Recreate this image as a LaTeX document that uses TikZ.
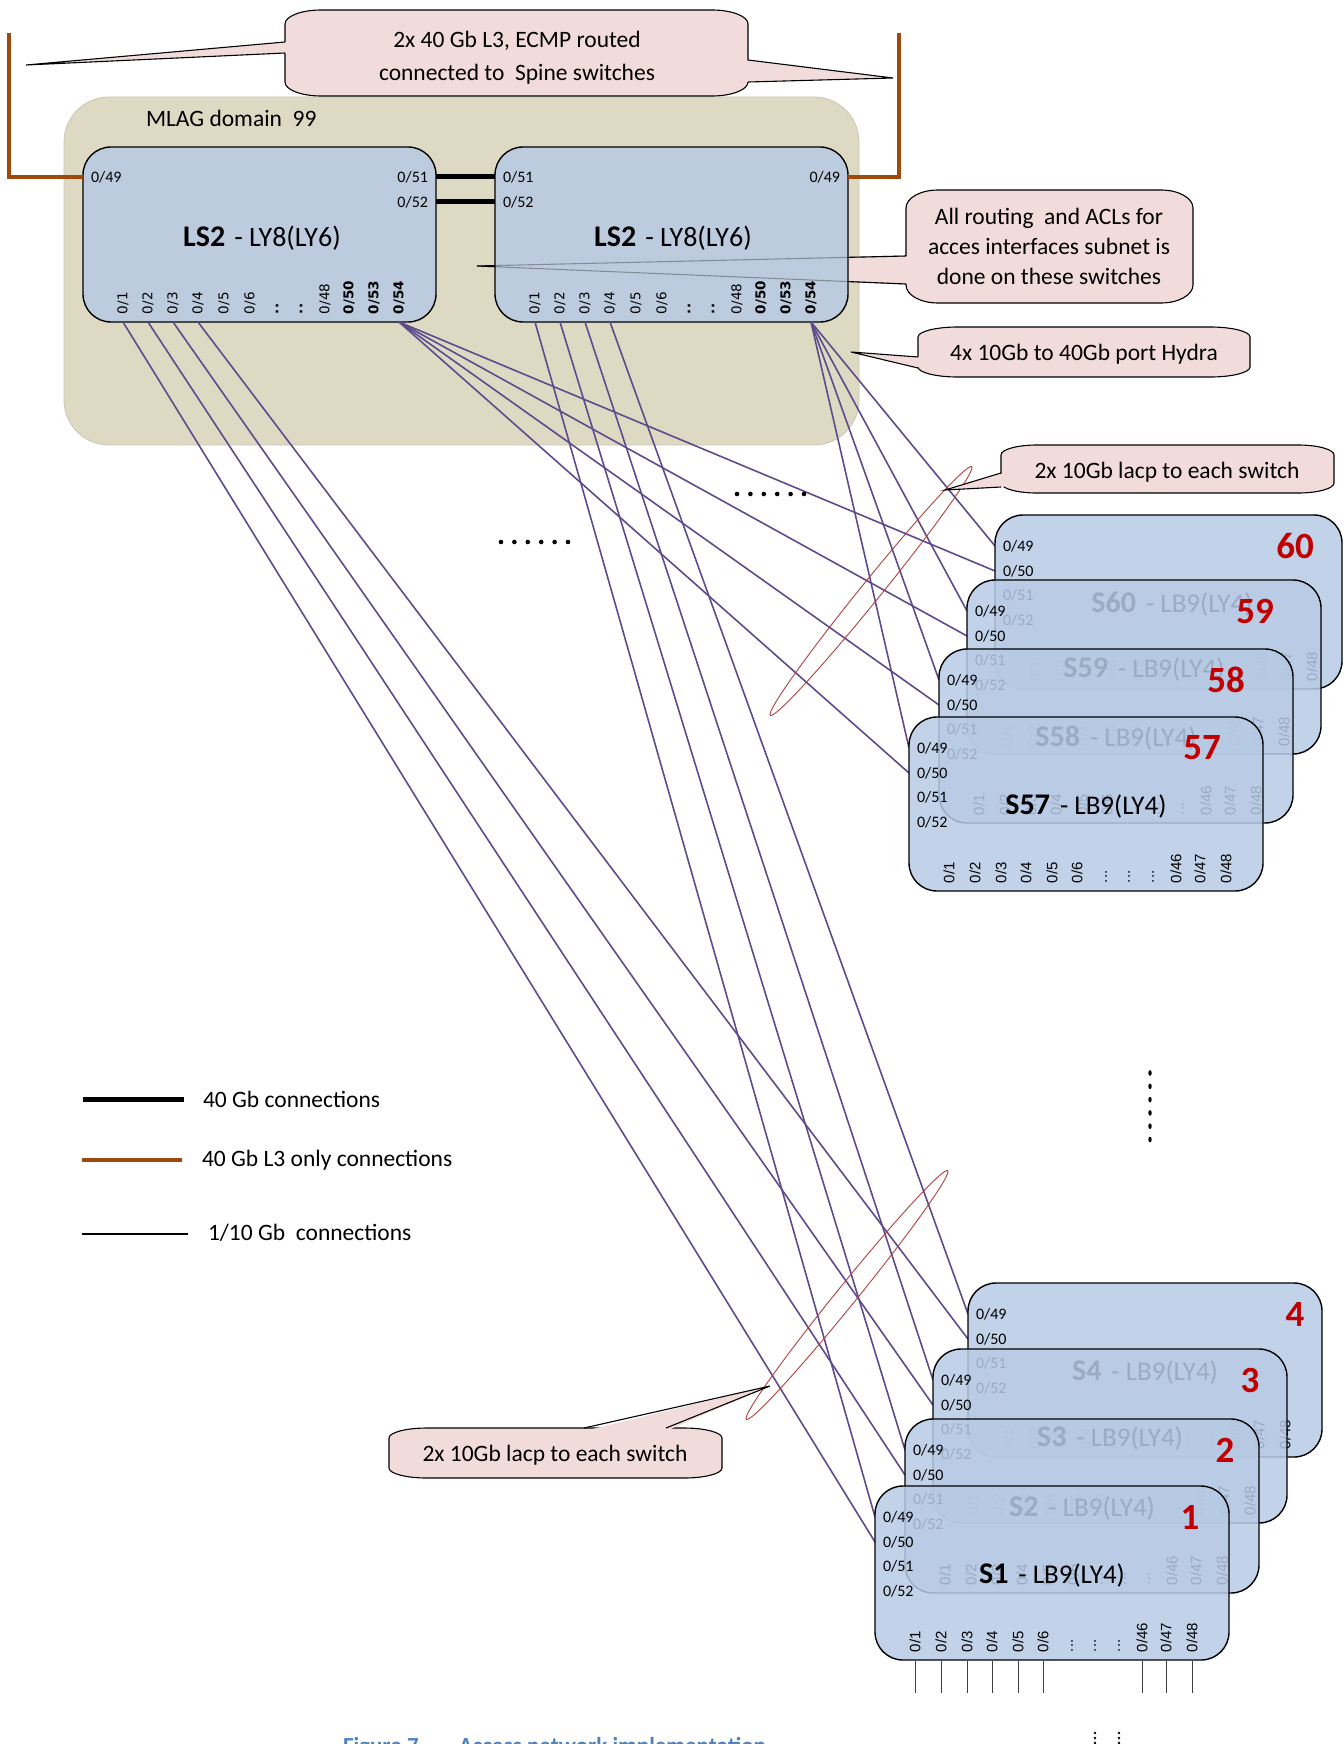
\documentclass[tikz,border=0pt]{standalone}
\usepackage{fontspec}
\setmainfont{Carlito}
\newfontfamily\lsportfont{DejaVu Sans}
\newfontfamily\swportfont{Liberation Sans}
\usetikzlibrary{shapes.geometric}

\definecolor{mlagfill}{HTML}{DDD9C3}
\definecolor{mlagline}{HTML}{C9C6B6}
\definecolor{lsfill}{HTML}{BCCCDE}
\definecolor{swfill}{HTML}{B7CAE4}
\definecolor{notefill}{HTML}{F2DCDB}
\definecolor{linkpurple}{HTML}{5F4B8B}
\definecolor{lthree}{HTML}{9E4A0E}
\definecolor{numred}{HTML}{C00000}
\definecolor{lagred}{HTML}{B0413E}
\definecolor{captionblue}{HTML}{4F81BD}

\tikzset{
  every node/.style={inner sep=0pt, outer sep=0pt},
  body/.style={font=\fontsize{23.5}{28}\selectfont},
  mlag/.style={draw=mlagline, line width=0.8pt, fill=mlagfill, rounded corners=45pt},
  lsbox/.style={draw=black, line width=1.4pt, fill=lsfill, rounded corners=28pt,
    minimum width=353pt, minimum height=175pt, anchor=north west},
  swbox/.style={draw=black, line width=1.4pt, fill=swfill, fill opacity=0.85,
    rounded corners=28pt, minimum height=174pt, anchor=north west},
  note/.style={draw=black, line width=1.1pt, fill=notefill},
  noteline/.style={draw=black, line width=1.1pt},
  conn/.style={draw=linkpurple, line width=1.6pt},
  fortyg/.style={draw=black, line width=5pt},
  lthreelink/.style={draw=lthree, line width=4.5pt},
  tenlink/.style={draw=black, line width=2.5pt},
  feeder/.style={draw=black!75, line width=1pt},
  lag/.style={draw=lagred, line width=0.9pt, ellipse, minimum height=20pt, minimum width=320pt},
  lsport/.style={font=\lsportfont\fontsize{13.5}{14}\selectfont, rotate=90, anchor=west},
  lsportb/.style={font=\lsportfont\bfseries\fontsize{13.5}{14}\selectfont, rotate=90, anchor=west},
  upport/.style={font=\fontsize{16}{16}\selectfont},
  swport/.style={font=\swportfont\fontsize{15}{15}\selectfont, rotate=90, anchor=west},
  rednum/.style={font=\bfseries\fontsize{37}{37}\selectfont, text=numred},
}

% rounded note body with elliptical corners: left, top, right, bottom, rx, ry
\newcommand\notebody[6]{%
  \filldraw[note] (#1,#2+#6) arc[start angle=180,end angle=90,x radius=#5pt,y radius=#6pt]
    -- (#3-#5,#2) arc[start angle=90,end angle=0,x radius=#5pt,y radius=#6pt]
    -- (#3,#4-#6) arc[start angle=0,end angle=-90,x radius=#5pt,y radius=#6pt]
    -- (#1+#5,#4) arc[start angle=270,end angle=180,x radius=#5pt,y radius=#6pt] -- cycle;}

% tail leaving a vertical edge at x=#1, between y=#2 and y=#3, pointing to (#4)
\newcommand\sidetail[5]{%
  \fill[notefill] (#1#5,#2) -- (#4) -- (#1#5,#3) -- cycle;
  \draw[noteline] (#1,#2) -- (#4) -- (#1,#3);}

% access switch: number, left, top, width, x of the red number
\newcommand\accessswitch[5]{%
  \node[swbox, minimum width=#4pt] (S#1) at (#2,#3) {};
  \node[upport, anchor=west] (S#1-t49) at (#2+8,#3+31) {0/49};
  \node[upport, anchor=west] (S#1-t50) at (#2+8,#3+56) {0/50};
  \node[upport, anchor=west] (S#1-t51) at (#2+8,#3+80) {0/51};
  \node[upport, anchor=west] (S#1-t52) at (#2+8,#3+105) {0/52};
  \node (S#1-name) at (#2+177,#3+89)
    {{\bfseries\fontsize{30}{30}\selectfont S#1}\hspace{10pt}{\fontsize{27}{27}\selectfont - LB9(LY4)}};
  \node[rednum] (S#1-num) at (#5,#3+31) {#1};
  \foreach \ox/\nn in {40/1,66/2,92/3,117/4,143/5,168/6,267/46,291/47,317/48}
    \node[swport] (S#1-p\nn) at (#2+\ox,#3+166) {0/\nn};
  \foreach \ox [count=\kk] in {197,220,244}
    \node[swport] (S#1-d\kk) at (#2+\ox,#3+166) {...};
}

\begin{document}
\begin{tikzpicture}[x=1pt,y=-1pt]
\useasboundingbox (0,0) rectangle (1343,1744);

% MLAG domain background
\draw[mlag] (64,97) rectangle (859,445);
\node[body, anchor=west] (mlaglabel) at (146,118) {MLAG domain~ 99};

% spine uplink note
\notebody{285}{10}{748}{96}{36}{14}
\coordinate (spinetipA) at (26,65);
\coordinate (spinetipB) at (893,78);
\sidetail{285}{42}{53}{spinetipA}{+3}
\sidetail{748}{60}{82}{spinetipB}{-3}
\node[body, align=center, font=\fontsize{23.5}{33}\selectfont] (spinenote) at (517,58)
  {2x 40 Gb L3, ECMP routed\\connected to~ Spine switches};

% routing note (its tail runs under the right core switch)
\notebody{906}{190}{1193}{303}{32}{18}
\coordinate (routetip) at (477,266);
\sidetail{906}{256}{284}{routetip}{+3}
\node[body, align=center, font=\fontsize{23.5}{30}\selectfont] (routenote) at (1049,246)
  {All routing~ and ACLs for\\acces interfaces subnet is\\done on these switches};

% core switches
\node[lsbox] (lsA) at (83,147) {};
\node[lsbox] (lsB) at (495,147) {};
\draw[noteline, draw opacity=0.3] (906,256) -- (routetip) -- (906,284);

% L3 uplinks to the spine
\coordinate (lsA-49) at (83,177);
\coordinate (lsB-49) at (848,177);
\coordinate (spineA) at (9,33);
\coordinate (spineB) at (899,33);
\draw[lthreelink] (lsA-49) -| (spineA);
\draw[lthreelink] (lsB-49) -| (spineB);

% peer links
\coordinate (lsA-51) at (436,177);
\coordinate (lsA-52) at (436,202);
\coordinate (lsB-51) at (495,177);
\coordinate (lsB-52) at (495,202);
\draw[fortyg] (lsA-51) -- (lsB-51);
\draw[fortyg] (lsA-52) -- (lsB-52);

% core switch labels
\node[upport, anchor=west] (lsA-t49) at (91,177) {0/49};
\node[upport, anchor=east] (lsA-t51) at (428,177) {0/51};
\node[upport, anchor=east] (lsA-t52) at (428,202) {0/52};
\node[upport, anchor=west] (lsB-t51) at (503,177) {0/51};
\node[upport, anchor=west] (lsB-t52) at (503,202) {0/52};
\node[upport, anchor=east] (lsB-t49) at (840,177) {0/49};
\node (lsA-name) at (262,238)
  {{\bfseries\fontsize{30}{30}\selectfont LS2}\hspace{9pt}{\fontsize{28}{28}\selectfont - LY8(LY6)}};
\node (lsB-name) at (673,238)
  {{\bfseries\fontsize{30}{30}\selectfont LS2}\hspace{9pt}{\fontsize{28}{28}\selectfont - LY8(LY6)}};

\foreach \bx/\lx in {lsA/83, lsB/495} {
  \foreach \ox/\nn in {40/1,65/2,90/3,115/4,141/5,167/6,242/48}
    \node[lsport] (\bx-p\nn) at (\lx+\ox,314) {0/\nn};
  \foreach \ox/\nn in {266/50,291/53,316/54}
    \node[lsportb] (\bx-p\nn) at (\lx+\ox,314) {0/\nn};
  \foreach \ox [count=\kk] in {194,218}
    \node[lsportb] (\bx-d\kk) at (\lx+\ox,314) {..};
  \foreach \ox/\nn in {40/1,65/2,90/3,115/4,316/54}
    \coordinate (\bx-c\nn) at (\lx+\ox,322);
}

% hydra note
\notebody{918}{327}{1250}{377}{40}{10}
\coordinate (hydratip) at (851,352);
\sidetail{918}{357}{368}{hydratip}{+3}
\node[body] (hydranote) at (1084,354) {4x 10Gb to 40Gb port Hydra};

% access switch uplink ports
\foreach \nn/\lx/\ty in {60/995/515,59/967/580,58/939/649,57/909/717,
                         4/968/1283,3/933/1349,2/905/1419,1/875/1486} {
  \coordinate (s\nn-49) at (\lx,\ty+31);
  \coordinate (s\nn-50) at (\lx,\ty+56);
}

% 10 Gb uplinks
\foreach \kk in {1,...,4} {
  \draw[conn] (lsA-c\kk) -- (s\kk-50);
  \draw[conn] (lsB-c\kk) -- (s\kk-49);
}
\foreach \kk in {57,...,60} {
  \draw[conn] (lsA-c54) -- (s\kk-50);
  \draw[conn] (lsB-c54) -- (s\kk-49);
}

% LACP bundles
\node[lag, rotate=51] (lagtop) at (871,591) {};
\node[lag, rotate=51] (lagbottom) at (847,1295) {};

% lacp notes
\notebody{1001}{445}{1334}{493}{36}{10}
\coordinate (lacptipA) at (945,490);
\sidetail{1001}{473}{487}{lacptipA}{+3}
\node[body] (lacpnoteA) at (1167,472) {2x 10Gb lacp to each switch};

\notebody{389}{1428}{722}{1478}{38}{10}
\coordinate (lacptipB) at (770,1386);
\fill[notefill] (584,1431) -- (lacptipB) -- (666,1431) -- cycle;
\draw[noteline] (584,1428) -- (lacptipB) -- (666,1428);
\node[body] (lacpnoteB) at (555,1455) {2x 10Gb lacp to each switch};

% access switch stacks, back to front
\accessswitch{60}{995}{515}{347}{1295}
\accessswitch{59}{967}{580}{354}{1255}
\accessswitch{58}{939}{649}{354}{1226}
\accessswitch{57}{909}{717}{354}{1202}

\accessswitch{4}{968}{1283}{354}{1295}
\accessswitch{3}{933}{1349}{354}{1250}
\accessswitch{2}{905}{1419}{354}{1225}
\accessswitch{1}{875}{1486}{354}{1190}

% access ports of the front switch
\foreach \ox in {40,66,92,117,143,168,267,291,317} {
  \coordinate (S1-f\ox) at (875+\ox,1661);
  \coordinate (S1-e\ox) at (875+\ox,1693);
  \draw[feeder] (S1-f\ox) -- (S1-e\ox);
}

% ellipsis marks
\foreach \kk in {0,...,5} {
  \fill (737+13.4*\kk,494) circle[radius=2.3pt];
  \fill (501+13.4*\kk,542) circle[radius=2.3pt];
  \fill (1150,1073+13.3*\kk) ellipse[x radius=1.7pt, y radius=2.8pt];
}
\foreach \kk in {0,1,2} {
  \fill (1095,1733+5*\kk) circle[radius=1.3pt];
  \fill (1119,1733+5*\kk) circle[radius=1.3pt];
}

% legend
\coordinate (lg1a) at (83,1099);  \coordinate (lg1b) at (184,1099);
\coordinate (lg2a) at (82,1160);  \coordinate (lg2b) at (182,1160);
\coordinate (lg3a) at (82,1234);  \coordinate (lg3b) at (188,1234);
\draw[fortyg] (lg1a) -- (lg1b);
\draw[lthreelink] (lg2a) -- (lg2b);
\draw[tenlink] (lg3a) -- (lg3b);
\node[body, anchor=west] (lg1t) at (203,1099) {40 Gb connections};
\node[body, anchor=west] (lg2t) at (202,1160) {40 Gb L3 only connections};
\node[body, anchor=west] (lg3t) at (208,1233) {1/10 Gb~ connections};

% caption
\node[anchor=base west, text=captionblue, font=\bfseries\fontsize{23}{23}\selectfont] (caption)
  at (343,1753) {Figure 7\hspace{40pt}Access network implementation};
\end{tikzpicture}
\end{document}
